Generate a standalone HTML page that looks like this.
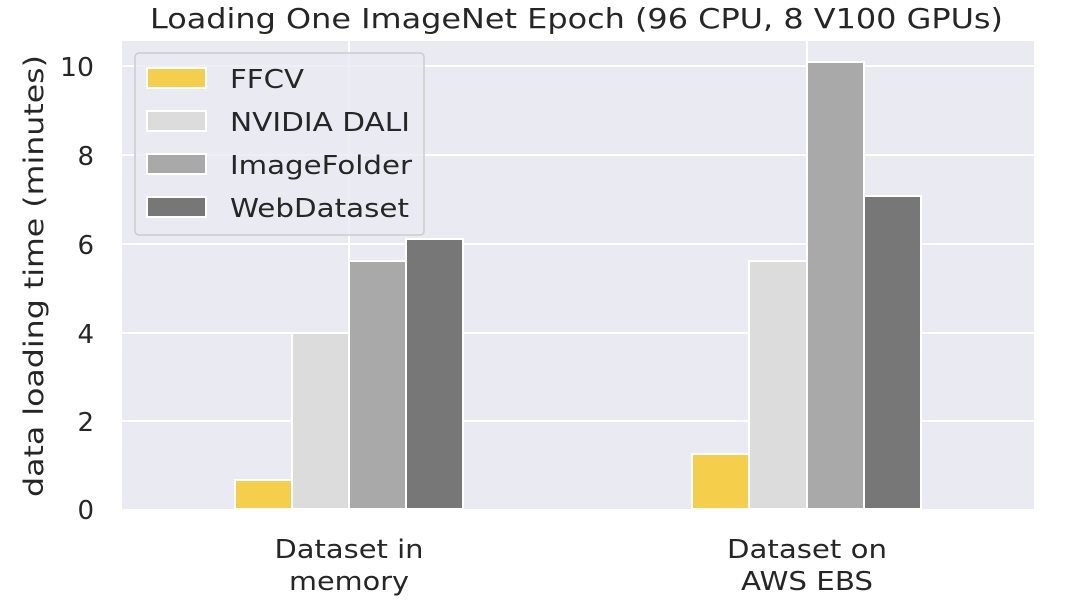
<!DOCTYPE html>
<html><head><style>body{margin:0;background:#fff}svg{display:block}</style></head><body>
<svg width="1074" height="614" xmlns="http://www.w3.org/2000/svg" font-family="DejaVu Sans, sans-serif" fill="#262626">
<text x="150" y="28" font-size="28" textLength="853" lengthAdjust="spacingAndGlyphs">Loading One ImageNet Epoch (96 CPU, 8 V100 GPUs)</text>
<rect x="122" y="41" width="912" height="468" fill="#eaeaf2"/>
<g stroke="#fff" stroke-width="2">
<line x1="122" x2="1034" y1="66" y2="66"/><line x1="122" x2="1034" y1="155" y2="155"/>
<line x1="122" x2="1034" y1="244" y2="244"/><line x1="122" x2="1034" y1="333" y2="333"/>
<line x1="122" x2="1034" y1="421" y2="421"/>
<line x1="349" x2="349" y1="41" y2="509"/><line x1="807" x2="807" y1="41" y2="509"/>
</g>
<g stroke="#fff" stroke-width="2">
<rect x="235" y="480" width="57" height="29" fill="#f5cf4b"/>
<rect x="292" y="333" width="57" height="176" fill="#dcdcdc"/>
<rect x="349" y="261" width="57" height="248" fill="#a9a9a9"/>
<rect x="406" y="239" width="57" height="270" fill="#777777"/>
<rect x="692" y="454" width="57" height="55" fill="#f5cf4b"/>
<rect x="749" y="261" width="58" height="248" fill="#dcdcdc"/>
<rect x="807" y="62" width="57" height="447" fill="#a9a9a9"/>
<rect x="864" y="196" width="57" height="313" fill="#777777"/>
</g>
<rect x="135" y="53" width="289" height="182" rx="4" fill="#eaeaf2" fill-opacity="0.8" stroke="#cccccc" stroke-width="1.5"/>
<g stroke="#fff" stroke-width="2">
<rect x="147" y="68" width="59" height="20" fill="#f5cf4b"/>
<rect x="147" y="111" width="59" height="20" fill="#dcdcdc"/>
<rect x="147" y="154" width="59" height="20" fill="#a9a9a9"/>
<rect x="147" y="197" width="59" height="20" fill="#777777"/>
</g>
<g font-size="26">
<text x="230" y="88" textLength="74" lengthAdjust="spacingAndGlyphs">FFCV</text>
<text x="230" y="131" textLength="180" lengthAdjust="spacingAndGlyphs">NVIDIA DALI</text>
<text x="230" y="174" textLength="182" lengthAdjust="spacingAndGlyphs">ImageFolder</text>
<text x="230" y="217" textLength="179" lengthAdjust="spacingAndGlyphs">WebDataset</text>
</g>
<g font-size="26" text-anchor="end">
<text x="94" y="76" textLength="34" lengthAdjust="spacingAndGlyphs">10</text><text x="94" y="165">8</text><text x="94" y="254">6</text>
<text x="94" y="343">4</text><text x="94" y="431">2</text><text x="94" y="519">0</text>
</g>
<text transform="translate(43,276) rotate(-90)" font-size="27" text-anchor="middle" textLength="442" lengthAdjust="spacingAndGlyphs">data loading time (minutes)</text>
<g font-size="26" text-anchor="middle">
<text x="349" y="558" textLength="149" lengthAdjust="spacingAndGlyphs">Dataset in</text><text x="349" y="590" textLength="120" lengthAdjust="spacingAndGlyphs">memory</text>
<text x="807" y="558" textLength="160" lengthAdjust="spacingAndGlyphs">Dataset on</text><text x="807" y="590" textLength="132" lengthAdjust="spacingAndGlyphs">AWS EBS</text>
</g>
</svg>
</body></html>
